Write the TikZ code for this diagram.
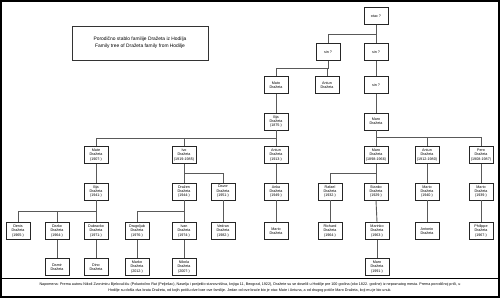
\documentclass[tikz,border=0pt]{standalone}
\usepackage{fontspec}
\setmainfont{Liberation Sans}
\begin{document}
\begin{tikzpicture}[x=1pt,y=-1pt,
  person/.style={draw=black!85, line width=0.8pt, fill=white, minimum width=24pt, minimum height=17pt,
    inner sep=0.6pt, align=center, font=\fontsize{3.7}{4.4}\selectfont},
  conn/.style={draw=black!65, line width=0.9pt}]
\useasboundingbox (0,0) rectangle (500,298);
\draw[line width=2.2pt] (1.1,1.1) rectangle (498.9,296.9);
\draw[line width=1.6pt] (1,278.5) -- (499,278.5);
% title
\node[draw=black!80, line width=0.7pt, minimum width=136pt, minimum height=34pt, align=center,
  font=\fontsize{4.9}{6.6}\selectfont] (title) at (140,43)
  {Porodično stablo familije Dražeta iz Hodilja\\Family tree of Dražeta family from Hodilje};
% footnote
\node[align=center, inner sep=0pt, font=\fontsize{3.7}{6}\selectfont] (note) at (250,287.5)
  {Napomena: Prema autoru Nikoli Zvonimiru Bjelovučiću (Poluotočno Rat (Pelješac), Naselja i porijeklo stanovništva, knjiga 11, Beograd, 1922), Dražete su se doselili u Hodilje pre 100 godina (oko 1822. godine) iz nepoznatog mesta. Prema porodičnoj priči, u\\
  Hodilje su došla dva brata Dražeta, od kojih potiču dve loze ove familije. Jedan od ove braće bio je otac Mate i Antuna, a od drugog potiče Maro Dražeta, koji mu je bio unuk.};
% level 0-2
\node[person] (otac) at (376,16) {otac ?};
\node[person] (sinL) at (328,52) {sin ?};
\node[person] (sinR) at (376,52) {sin ?};
\node[person] (mato) at (276,85) {Mato\\Dražeta};
\node[person] (antun1) at (327,85) {Antun\\Dražeta};
\node[person] (sin3) at (376,85) {sin ?};
% level 3
\node[person] (ilija1) at (276,121.5) {Ilija\\Dražeta\\(1875-)};
\node[person] (maro1) at (376,121.5) {Maro\\Dražeta};
% level 4
\node[person] (mate) at (96,155) {Mate\\Dražeta\\(1907-)};
\node[person] (ivo) at (184,155) {Ivo\\Dražeta\\(1919-1985)};
\node[person] (antun2) at (276,155) {Antun\\Dražeta\\(1913-)};
\node[person] (maro2) at (376,155) {Maro\\Dražeta\\(1898-1966)};
\node[person] (antun3) at (427,155) {Antun\\Dražeta\\(1912-1980)};
\node[person] (pero) at (481,155) {Pero\\Dražeta\\(1908-1987)};
% level 5
\node[person] (ilija2) at (96,191.5) {Ilija\\Dražeta\\(1941-)};
\node[person] (drazen) at (184,191.5) {Dražen\\Dražeta\\(1944-)};
\node[person] (davor) at (223,191.5) {Davor\\Dražeta\\(1951-)};
\node[person] (anka) at (276,191.5) {Anka\\Dražeta\\(1949-)};
\node[person] (rafael) at (330,191.5) {Rafael\\Dražeta\\(1932-)};
\node[person] (stanko) at (376,191.5) {Stanko\\Dražeta\\(1929-)};
\node[person] (mario1) at (427,191.5) {Mario\\Dražeta\\(1940-)};
\node[person] (mario2) at (481,191.5) {Mario\\Dražeta\\(1939-)};
% level 6
\node[person] (denis) at (18,231) {Denis\\Dražeta\\(1965-)};
\node[person] (darko) at (57,231) {Darko\\Dražeta\\(1964-)};
\node[person] (dubravko) at (96,231) {Dubravko\\Dražeta\\(1971-)};
\node[person] (dragoljub) at (137,231) {Dragoljub\\Dražeta\\(1976-)};
\node[person] (ivan) at (184,231) {Ivan\\Dražeta\\(1974-)};
\node[person] (vedran) at (223,231) {Vedran\\Dražeta\\(1982-)};
\node[person] (mario3) at (276,231) {Mario\\Dražeta};
\node[person] (richard) at (330,231) {Richard\\Dražeta\\(1964-)};
\node[person] (marinko) at (377,231) {Marinko\\Dražeta\\(1963-)};
\node[person] (antonio) at (427,231) {Antonio\\Dražeta};
\node[person] (philippe) at (481,231) {Philippe\\Dražeta\\(1967-)};
% level 7
\node[person] (damir) at (57,267) {Damir\\Dražeta};
\node[person] (dino) at (96,267) {Dino\\Dražeta};
\node[person] (marko) at (137,267) {Marko\\Dražeta\\(2012-)};
\node[person] (nikola) at (184,267) {Nikola\\Dražeta\\(2007-)};
\node[person] (maro3) at (377,267) {Maro\\Dražeta\\(1991-)};
% bars
\coordinate (b0) at (0,34);
\coordinate (b1) at (0,68);
\coordinate (b2) at (0,138);
\coordinate (b3) at (0,137);
\coordinate (b4) at (0,173);
\coordinate (b5) at (0,211);
% connectors
\draw[conn] (otac.south) -- (otac.south |- b0) -| (sinL.north);
\draw[conn] (otac.south) -- (sinR.north);
\draw[conn] (sinL.south) -- (sinL.south |- b1) -| (mato.north);
\draw[conn] (sinL.south |- b1) -| (antun1.north);
\draw[conn] (sinR.south) -- (sin3.north);
\draw[conn] (mato.south) -- (ilija1.north);
\draw[conn] (sin3.south) -- (maro1.north);
\draw[conn] (ilija1.south) -- (ilija1.south |- b2) -| (mate.north);
\draw[conn] (ilija1.south |- b2) -| (ivo.north);
\draw[conn] (ilija1.south) -- (antun2.north);
\draw[conn] (maro1.south) -- (maro2.north);
\draw[conn] (maro1.south |- b3) -| (antun3.north);
\draw[conn] (maro1.south |- b3) -| (pero.north);
\draw[conn] (mate.south) -- (ilija2.north);
\draw[conn] (ivo.south) -- (drazen.north);
\draw[conn] (ivo.south |- b4) -| (davor.north);
\draw[conn] (antun2.south) -- (anka.north);
\draw[conn] (maro2.south) -- (stanko.north);
\draw[conn] (maro2.south |- b4) -| (rafael.north);
\draw[conn] (antun3.south) -- (mario1.north);
\draw[conn] (pero.south) -- (mario2.north);
\draw[conn] (ilija2.south) -- (dubravko.north);
\draw[conn] (ilija2.south |- b5) -| (denis.north);
\draw[conn] (ilija2.south |- b5) -| (darko.north);
\draw[conn] (drazen.south) -- (ivan.north);
\draw[conn] (drazen.south |- b5) -| (dragoljub.north);
\draw[conn] (davor.south) -- (vedran.north);
\draw[conn] (anka.south) -- (mario3.north);
\draw[conn] (rafael.south) -- (richard.north);
\draw[conn] (stanko.south) -- (marinko.north);
\draw[conn] (mario1.south) -- (antonio.north);
\draw[conn] (mario2.south) -- (philippe.north);
\draw[conn] (darko.south) -- (damir.north);
\draw[conn] (dubravko.south) -- (dino.north);
\draw[conn] (dragoljub.south) -- (marko.north);
\draw[conn] (ivan.south) -- (nikola.north);
\draw[conn] (marinko.south) -- (maro3.north);
\end{tikzpicture}
\end{document}
